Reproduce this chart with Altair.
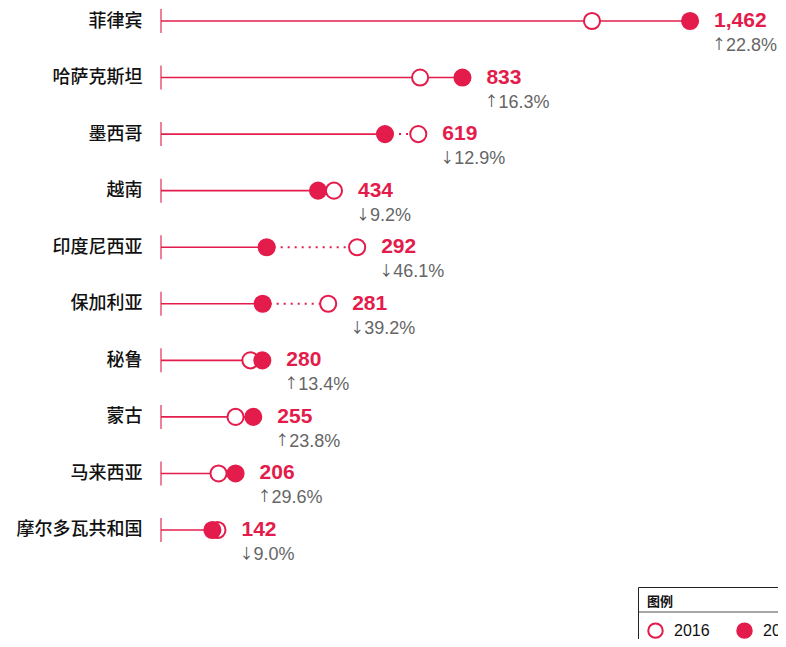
import altair as alt
import pandas as pd

countries = ["菲律宾", "哈萨克斯坦", "墨西哥", "越南", "印度尼西亚",
             "保加利亚", "秘鲁", "蒙古", "马来西亚", "摩尔多瓦共和国"]
v2016 = [1191, 716, 711, 478, 542, 462, 247, 206, 159, 156]
v2017 = [1462, 833, 619, 434, 292, 281, 280, 255, 206, 142]
arrows = ["↑", "↑", "↓", "↓", "↓", "↓", "↑", "↑", "↑", "↓"]
changes = ["22.8%", "16.3%", "12.9%", "9.2%", "46.1%",
           "39.2%", "13.4%", "23.8%", "29.6%", "9.0%"]
years = ["2016", "2017"]

RED = "#E31C4B"

wide = pd.DataFrame({"country": countries, "v2016": v2016, "v2017": v2017,
                     "arrow": arrows, "change": changes})
wide["zero"] = 0
wide["vmax"] = wide[["v2016", "v2017"]].max(axis=1)
dotted = wide[wide.v2016 > wide.v2017]
long = pd.concat([
    pd.DataFrame({"country": countries, "year": years[0], "value": v2016}),
    pd.DataFrame({"country": countries, "year": years[1], "value": v2017}),
], ignore_index=True)

xscale = alt.Scale(domain=[0, 1705], nice=False, zero=True)
yenc = alt.Y("country:N", sort=countries,
             scale=alt.Scale(type="point", padding=0.2299),
             axis=alt.Axis(title=None, domain=False, ticks=False, grid=False,
                           labelPadding=19, labelFont="Noto Sans CJK SC",
                           labelFontSize=18, labelFontWeight=500, labelColor="#111"))

base = alt.Chart(wide)

solid = base.mark_rule(color=RED, strokeWidth=1.6).encode(
    x=alt.X("zero:Q", scale=xscale, axis=None), x2="v2017:Q", y=yenc)

dots = alt.Chart(dotted).mark_rule(color=RED, strokeWidth=2, strokeDash=[2, 5]).encode(
    x=alt.X("v2017:Q", scale=xscale, axis=None), x2="v2016:Q", y=yenc)

tick = base.mark_tick(color=RED, size=24, thickness=1.6).encode(
    x=alt.X("zero:Q", scale=xscale, axis=None), y=yenc)

points = alt.Chart(long).mark_circle(size=260, stroke=RED, strokeWidth=2, opacity=1).encode(
    x=alt.X("value:Q", scale=xscale, axis=None), y=yenc,
    fill=alt.Fill("year:N", scale=alt.Scale(domain=years, range=["#ffffff", RED]),
                  legend=alt.Legend(title="图例", orient="none", legendX=477, legendY=579,
                                    direction="horizontal", symbolType="circle",
                                    symbolSize=210, symbolStrokeColor=RED, symbolStrokeWidth=2,
                                    titleFont="Noto Sans CJK SC", titleFontSize=13,
                                    titleFontWeight="bold", titleColor="#111",
                                    titlePadding=13, padding=9, strokeColor="#222",
                                    labelFont="Liberation Sans",
                                    labelFontSize=16, labelColor="#111", labelOffset=10,
                                    columnPadding=23)))

sep = alt.Chart(wide.head(1)).mark_rule(color="#888888", strokeWidth=1.5).encode(
    x=alt.value(477), x2=alt.value(700), y=alt.value(604))

vtext = base.mark_text(align="left", baseline="middle", dx=24, font="Liberation Sans",
                       fontSize=21, fontWeight="bold", color=RED).encode(
    x=alt.X("vmax:Q", scale=xscale, axis=None), y=yenc,
    text=alt.Text("v2017:Q", format=","))

atext = base.mark_text(align="left", baseline="middle", dx=22, dy=24, font="Noto Sans CJK SC",
                       fontSize=14, color="#555555").encode(
    x=alt.X("vmax:Q", scale=xscale, axis=None), y=yenc, text="arrow:N")

ptext = base.mark_text(align="left", baseline="middle", dx=36, dy=25, font="Liberation Sans",
                       fontSize=18, color="#666666").encode(
    x=alt.X("vmax:Q", scale=xscale, axis=None), y=yenc, text="change:N")

chart = alt.layer(solid, dots, tick, points, sep, vtext, atext, ptext).properties(
    width=617, height=535,
    autosize=alt.AutoSizeParams(type="none"),
    padding={"left": 153, "top": 0, "right": 0, "bottom": 96},
).configure_view(stroke=None)

chart.save("out.html", embed_options={"renderer": "svg", "actions": False})
